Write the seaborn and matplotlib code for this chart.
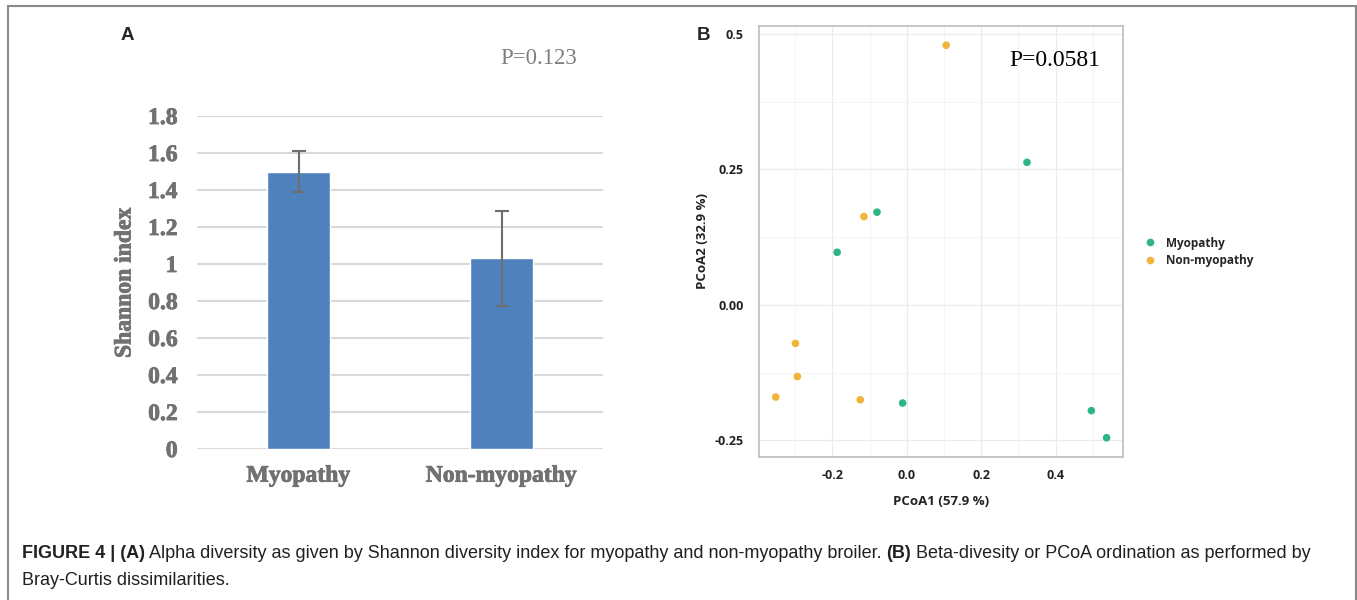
import numpy as np
import pandas as pd
import matplotlib
matplotlib.use("Agg")
import matplotlib.pyplot as plt
import matplotlib.patheffects as pe
import seaborn as sns
from matplotlib.patches import Rectangle
from matplotlib.lines import Line2D

#%% Daten

# Panel A: Shannon-Index je Gruppe (Mittelwert und Fehlerbalken)
groups = ["Myopathy", "Non-myopathy"]
shannon_mean = [1.50, 1.03]
shannon_err = [0.11, 0.255]
shannon_ticks = [0, 0.2, 0.4, 0.6, 0.8, 1.0, 1.2, 1.4, 1.6, 1.8]
shannon_ticklabels = ["0", "0.2", "0.4", "0.6", "0.8", "1", "1.2", "1.4", "1.6", "1.8"]

# Panel B: PCoA-Koordinaten (Bray-Curtis)
pcoa1 = [0.323, -0.080, -0.187, -0.011, 0.496, 0.537,
         0.106, -0.115, -0.299, -0.294, -0.352, -0.125]
pcoa2 = [0.263, 0.171, 0.097, -0.181, -0.195, -0.245,
         0.479, 0.163, -0.071, -0.132, -0.170, -0.175]
pcoa_group = ["Myopathy", "Myopathy", "Myopathy", "Myopathy", "Myopathy", "Myopathy",
              "Non-myopathy", "Non-myopathy", "Non-myopathy", "Non-myopathy",
              "Non-myopathy", "Non-myopathy"]
pcoa_xticks = [-0.2, 0.0, 0.2, 0.4]
pcoa_xticklabels = ["-0.2", "0.0", "0.2", "0.4"]
pcoa_yticks = [-0.25, 0.0, 0.25, 0.5]
pcoa_yticklabels = ["-0.25", "0.00", "0.25", "0.5"]

palette = {"Myopathy": "#2db487", "Non-myopathy": "#f0b43a"}

#%% Figur

W, H = 1357, 600
sns.set_style("white")
plt.rcParams["font.family"] = ["Liberation Sans", "DejaVu Sans"]

fig = plt.figure(figsize=(W / 100, H / 100), dpi=100)

# Rahmen um die ganze Abbildung
fig.patches.append(Rectangle((8 / W, -0.05), (1356 - 8) / W, 1 - 6 / H + 0.05,
                             transform=fig.transFigure, fill=False,
                             edgecolor="#8a8a8a", lw=1.5))

#%% Panel A: Balkendiagramm

gray = "#717171"
serif = "Liberation Serif"
# Serif-Schrift etwas kraeftiger machen
fat = [pe.withStroke(linewidth=0.6, foreground=gray)]

axA = fig.add_axes([197 / W, 1 - 449 / H, 406 / W, 333 / H])
dfA = pd.DataFrame({"group": groups, "shannon": shannon_mean})
sns.barplot(data=dfA, x="group", y="shannon", color="#4f81bd", saturation=1,
            width=0.31, errorbar=None, ax=axA, zorder=2)
axA.errorbar(x=np.arange(len(groups)), y=shannon_mean, yerr=shannon_err,
             fmt="none", ecolor="#6e6e6e", elinewidth=1.5, capsize=5,
             capthick=1.5, zorder=3)

axA.set_xlim(-0.5, 1.5)
axA.set_ylim(0, 1.8)
axA.set_yticks(shannon_ticks)
axA.set_yticklabels(shannon_ticklabels)
axA.yaxis.grid(True, color="#d9d9d9", lw=1.5)
axA.set_axisbelow(True)
for s in axA.spines.values():
    s.set_visible(False)
axA.tick_params(axis="y", length=0, pad=14)
axA.tick_params(axis="x", length=0, pad=12)
for lab in axA.get_yticklabels() + axA.get_xticklabels():
    lab.set_fontfamily(serif)
    lab.set_fontweight("bold")
    lab.set_fontsize(17)
    lab.set_color(gray)
    lab.set_path_effects(fat)
axA.set_xlabel("")
axA.set_ylabel("Shannon index", fontfamily=serif, fontweight="bold",
               fontsize=17, color=gray, labelpad=9, path_effects=fat)

fig.text(539 / W, 1 - 59 / H, "P=0.123", fontfamily=serif, fontsize=16.5,
         color="#7f7f7f", ha="center", va="center")
fig.text(127 / W, 1 - 35 / H, "A", fontweight="bold", fontsize=13.5,
         ha="center", va="center")

#%% Panel B: PCoA

sans = "Open Sans"

axB = fig.add_axes([759 / W, 1 - 456.7 / H, 364 / W, 431 / H])
dfB = pd.DataFrame({"pcoa1": pcoa1, "pcoa2": pcoa2, "group": pcoa_group})
sns.scatterplot(data=dfB, x="pcoa1", y="pcoa2", hue="group", palette=palette,
                s=30, edgecolor="none", legend=False, ax=axB, zorder=3)

axB.set_xlim(-0.397, 0.581)
axB.set_ylim(-0.280, 0.515)
axB.set_xticks(pcoa_xticks)
axB.set_xticklabels(pcoa_xticklabels)
axB.set_yticks(pcoa_yticks)
axB.set_yticklabels(pcoa_yticklabels)
axB.set_xticks([-0.3, -0.1, 0.1, 0.3, 0.5], minor=True)
axB.set_yticks([-0.125, 0.125, 0.375], minor=True)
axB.grid(True, which="major", color="#ebebeb", lw=0.9)
axB.grid(True, which="minor", color="#f4f4f4", lw=0.7)
axB.set_axisbelow(True)
for s in axB.spines.values():
    s.set_color("#bdbdbd")
    s.set_linewidth(1.2)
axB.tick_params(axis="x", which="major", length=0, pad=9)
axB.tick_params(axis="y", which="major", length=3, color="#aaaaaa", pad=8)
axB.tick_params(which="minor", length=0)
for lab in axB.get_yticklabels() + axB.get_xticklabels():
    lab.set_fontfamily(sans)
    lab.set_fontweight("bold")
    lab.set_fontsize(9)
    lab.set_color("#222222")
axB.set_xlabel("PCoA1 (57.9 %)", fontfamily=sans, fontweight="bold",
               fontsize=9.5, color="#222222", labelpad=9)
axB.set_ylabel("PCoA2 (32.9 %)", fontfamily=sans, fontweight="bold",
               fontsize=9.5, color="#222222", labelpad=4)

fig.text(1055 / W, 1 - 61 / H, "P=0.0581", fontfamily=serif, fontsize=17,
         color="black", ha="center", va="center")
fig.text(704 / W, 1 - 35 / H, "B", fontweight="bold", fontsize=13.5,
         ha="center", va="center")

# Legende
handles = [Line2D([], [], marker="o", ls="none", markersize=5.5,
                  markerfacecolor=palette[g], markeredgecolor="none") for g in groups]
leg = axB.legend(handles, groups, loc="upper left",
                 bbox_to_anchor=(1133 / W, 1 - 226 / H),
                 bbox_transform=fig.transFigure, frameon=False,
                 handlelength=1.0, handletextpad=0.9, labelspacing=0.35,
                 prop={"family": sans, "weight": "bold", "size": 8.5})

#%% Bildunterschrift (fett/normal gemischt)

cap_color = "#231f20"
cap_size = 12.95
line1 = [("FIGURE 4 | (A)", "bold"),
         (" Alpha diversity as given by Shannon diversity index for myopathy and non-myopathy broiler. ", "normal"),
         ("(B)", "bold"),
         (" Beta-divesity or PCoA ordination as performed by", "normal")]
line2 = "Bray-Curtis dissimilarities."

prev = fig.text(22 / W, 1 - 562 / H, line1[0][0], fontweight=line1[0][1],
                fontsize=cap_size, color=cap_color, va="bottom", ha="left")
for txt, wt in line1[1:]:
    prev = axA.annotate(txt, xy=(1, 0), xycoords=prev, va="bottom", ha="left",
                        fontweight=wt, fontsize=cap_size, color=cap_color)
fig.text(22 / W, 1 - 589 / H, line2, fontsize=cap_size, color=cap_color,
         va="bottom", ha="left")

fig.savefig("out.png", dpi=100)
